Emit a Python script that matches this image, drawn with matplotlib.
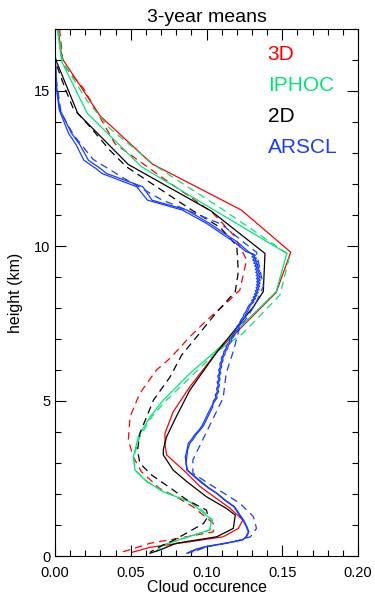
import matplotlib
matplotlib.use("Agg")
import matplotlib.pyplot as plt
from matplotlib.ticker import MultipleLocator

plt.rcParams['font.family'] = ['Liberation Sans', 'DejaVu Sans']

# ---- profiles: (cloud occurrence, height km) ----
red_solid_x = [0.002, 0.0046, 0.0297, 0.064, 0.123, 0.1556, 0.146, 0.107, 0.089, 0.078, 0.0726,
               0.0726, 0.0737, 0.087, 0.0957, 0.1155, 0.124, 0.121, 0.111, 0.089, 0.0627, 0.051]
red_solid_z = [17.0, 16.06, 14.2, 12.65, 11.16, 9.8, 8.5, 6.59, 5.46, 4.65, 3.96,
               3.6, 3.26, 2.67, 2.24, 1.54, 1.16, 0.89, 0.62, 0.46, 0.28, 0.12]

red_dash_x = [0.003, 0.0055, 0.0187, 0.0396, 0.0748, 0.1034, 0.118, 0.1265, 0.122, 0.114, 0.100,
              0.089, 0.076, 0.067, 0.056, 0.0495, 0.0484, 0.0517, 0.057, 0.069, 0.080, 0.091,
              0.1045, 0.1045, 0.087, 0.0627, 0.044]
red_dash_z = [17.0, 15.84, 15.09, 13.3, 12.07, 11.1, 10.35, 9.55, 8.58, 8.2, 7.6,
              7.07, 6.38, 6.0, 5.25, 4.49, 3.74, 3.2, 2.72, 2.18, 1.91, 1.59,
              1.05, 0.78, 0.62, 0.41, 0.12]

green_solid_x = [0.0015, 0.0044, 0.0213, 0.057, 0.153, 0.146, 0.1056, 0.089, 0.0715, 0.0627, 0.055,
                 0.0517, 0.0528, 0.0605, 0.0715, 0.089, 0.0957, 0.1034, 0.102, 0.0847, 0.069, 0.067]
green_solid_z = [17.0, 15.95, 14.28, 12.56, 9.76, 8.53, 6.59, 5.89, 5.03, 4.49, 3.85,
                 3.2, 2.77, 2.40, 2.07, 1.75, 1.48, 1.16, 0.84, 0.57, 0.32, 0.14]

green_dash_x = [0.002, 0.005, 0.021, 0.036, 0.067, 0.110, 0.155, 0.1485, 0.124, 0.107, 0.090,
                0.073, 0.064, 0.056, 0.052, 0.053, 0.061, 0.072, 0.089, 0.097, 0.104, 0.1025,
                0.085, 0.070, 0.068]
green_dash_z = [17.0, 15.95, 14.7, 13.8, 12.56, 11.2, 9.7, 8.42, 7.18, 6.59, 5.8,
                5.0, 4.5, 3.85, 3.2, 2.77, 2.40, 2.07, 1.75, 1.48, 1.16, 0.84,
                0.57, 0.32, 0.14]

black_solid_x = [0.0, 0.0, 0.001, 0.015, 0.0484, 0.103, 0.1386, 0.1375, 0.131, 0.107, 0.089,
                 0.080, 0.0737, 0.0715, 0.0715, 0.078, 0.087, 0.100, 0.113, 0.119, 0.1177,
                 0.1067, 0.080, 0.069, 0.0627]
black_solid_z = [17.0, 16.1, 15.95, 14.28, 12.63, 11.13, 9.76, 8.53, 8.04, 6.59, 5.35,
                 4.49, 3.85, 3.44, 3.26, 2.77, 2.40, 1.91, 1.54, 1.32, 0.89,
                 0.62, 0.41, 0.19, 0.09]

black_dash_x = [0.0, 0.0, 0.001, 0.0066, 0.012, 0.023, 0.036, 0.047, 0.089, 0.109, 0.120,
                0.121, 0.119, 0.107, 0.0935, 0.0836, 0.076, 0.065, 0.0605, 0.056, 0.0545,
                0.056, 0.0638, 0.078, 0.087, 0.100, 0.101, 0.098, 0.080, 0.069, 0.0627]
black_dash_z = [17.0, 16.1, 15.84, 15.09, 14.44, 13.85, 13.1, 12.56, 11.2, 10.6, 10.0,
                9.17, 8.53, 7.88, 7.07, 6.48, 5.78, 5.03, 4.49, 3.96, 3.42,
                2.99, 2.61, 2.13, 1.81, 1.48, 1.27, 1.05, 0.55, 0.30, 0.12]

# ARSCL observations (fine vertical resolution, two periods plus a third dashed)
arscl_z = [17.0, 16.0, 15.14, 14.39, 13.63, 13.26, 12.77, 12.5, 12.34, 11.91, 11.48,
           11.16, 10.73, 10.40, 10.14, 9.82,
           9.75, 9.7, 9.65, 9.6, 9.55, 9.5, 9.45, 9.4, 9.35, 9.3, 9.25, 9.2, 9.15, 9.1,
           9.05, 9.0, 8.95, 8.9, 8.85, 8.8, 8.75, 8.7, 8.65, 8.6, 8.55, 8.5, 8.45, 8.4,
           8.35, 8.3, 8.25, 8.2, 8.1, 8.0, 7.9, 7.8, 7.7, 7.6, 7.5, 7.4, 7.3, 7.2,
           7.1, 7.0, 6.9, 6.8, 6.7, 6.6, 6.5, 6.4, 6.3, 6.2, 6.1, 6.0, 5.9, 5.8,
           5.7, 5.6, 5.5, 5.4, 5.3, 5.2, 5.1, 5.0,
           4.8, 4.6, 4.4, 4.2, 4.06, 3.9, 3.75, 3.64, 3.4, 3.2, 3.0,
           2.77, 2.6, 2.40, 2.2, 2.02, 1.8, 1.59, 1.37, 1.16, 0.97, 0.78,
           0.62, 0.52, 0.41, 0.30, 0.22, 0.09]
arscl_a_x = [0.0, 0.0003, 0.001, 0.0033, 0.011, 0.0165, 0.022, 0.030, 0.034, 0.058, 0.064,
             0.087, 0.102, 0.112, 0.120, 0.1276,
             0.1295, 0.1310, 0.1300, 0.1318, 0.1305, 0.1322, 0.1312, 0.1330, 0.1318, 0.1335,
             0.1322, 0.1338, 0.1325, 0.1340, 0.1328, 0.1342, 0.1330, 0.1343, 0.1331, 0.1342,
             0.1330, 0.1340, 0.1327, 0.1336, 0.1322, 0.1331, 0.1316, 0.1324, 0.1308, 0.1315,
             0.1298, 0.1304, 0.1282, 0.1270, 0.1262, 0.1248, 0.1240, 0.1225, 0.1218, 0.1200,
             0.1195, 0.1178, 0.1172, 0.1155, 0.1150, 0.1133, 0.1130, 0.1115, 0.1112, 0.1098,
             0.1100, 0.1088, 0.1092, 0.1080, 0.1086, 0.1074, 0.1082, 0.1070, 0.1078, 0.1066,
             0.1072, 0.1058, 0.1062, 0.1045,
             0.104, 0.102, 0.100, 0.098, 0.0957, 0.093, 0.091, 0.089, 0.0875, 0.087, 0.0865,
             0.087, 0.091, 0.0957, 0.101, 0.1067, 0.112, 0.118, 0.121, 0.124, 0.126, 0.1276,
             0.126, 0.124, 0.113, 0.100, 0.094, 0.088]
arscl_b_x = [0.0, 0.0002, 0.0008, 0.0028, 0.009, 0.014, 0.019, 0.027, 0.031, 0.054, 0.061,
             0.084, 0.100, 0.110, 0.118, 0.126,
             0.1305, 0.1322, 0.1312, 0.1330, 0.1318, 0.1336, 0.1325, 0.1343, 0.1331, 0.1348,
             0.1336, 0.1352, 0.1340, 0.1355, 0.1342, 0.1356, 0.1344, 0.1356, 0.1343, 0.1354,
             0.1341, 0.1351, 0.1338, 0.1347, 0.1333, 0.1341, 0.1326, 0.1333, 0.1317, 0.1324,
             0.1307, 0.1313, 0.1292, 0.1281, 0.1273, 0.1260, 0.1252, 0.1237, 0.1229, 0.1212,
             0.1206, 0.1190, 0.1184, 0.1166, 0.1161, 0.1144, 0.1140, 0.1125, 0.1121, 0.1108,
             0.1109, 0.1097, 0.1100, 0.1089, 0.1094, 0.1083, 0.1090, 0.1079, 0.1086, 0.1075,
             0.1080, 0.1067, 0.1070, 0.1055,
             0.103, 0.101, 0.099, 0.097, 0.095, 0.092, 0.090, 0.088, 0.087, 0.086, 0.0865,
             0.0875, 0.0915, 0.0965, 0.1015, 0.107, 0.1125, 0.1185, 0.1215, 0.1245, 0.1265,
             0.128, 0.1265, 0.1235, 0.112, 0.099, 0.093, 0.087]

arscl_dash_x = [0.0, 0.0005, 0.004, 0.012, 0.025, 0.045, 0.070, 0.090, 0.110, 0.125, 0.133,
                0.1375, 0.133, 0.127, 0.122, 0.118, 0.113, 0.111, 0.100, 0.091, 0.091,
                0.1045, 0.122, 0.131, 0.133, 0.129, 0.118, 0.100, 0.090]
arscl_dash_z = [17.0, 15.5, 14.3, 13.6, 12.8, 12.2, 11.5, 11.1, 10.7, 10.1, 9.8,
                8.7, 8.2, 7.7, 7.4, 6.65, 5.9, 5.1, 4.0, 3.1, 2.67,
                2.24, 1.70, 1.27, 0.89, 0.62, 0.46, 0.30, 0.10]

RED = '#ff0000'
GREEN = '#00e676'
BLACK = '#000000'
BLUE = '#1a3cff'

legend_labels = ['3D', 'IPHOC', '2D', 'ARSCL']
legend_colors = [RED, GREEN, BLACK, BLUE]

fig = plt.figure(figsize=(3.75, 5.96), dpi=100)
ax = fig.add_axes([55 / 375, 40 / 596, 303 / 375, 527 / 596])

lw = 0.9
dash = (0, (6, 4))
ax.plot(red_solid_x, red_solid_z, color=RED, lw=lw)
ax.plot(red_dash_x, red_dash_z, color=RED, lw=lw, linestyle=dash)
ax.plot(green_solid_x, green_solid_z, color=GREEN, lw=lw)
ax.plot(green_dash_x, green_dash_z, color=GREEN, lw=lw, linestyle=dash)
ax.plot(black_solid_x, black_solid_z, color=BLACK, lw=lw)
ax.plot(black_dash_x, black_dash_z, color=BLACK, lw=lw, linestyle=dash)
ax.plot(arscl_a_x, arscl_z, color=BLUE, lw=lw)
ax.plot(arscl_b_x, arscl_z, color=BLUE, lw=lw)
ax.plot(arscl_dash_x, arscl_dash_z, color=BLUE, lw=lw, linestyle=dash)

ax.set_xlim(0, 0.20)
ax.set_ylim(0, 17)
ax.xaxis.set_major_locator(MultipleLocator(0.05))
ax.xaxis.set_minor_locator(MultipleLocator(0.01))
ax.yaxis.set_major_locator(MultipleLocator(5))
ax.yaxis.set_minor_locator(MultipleLocator(1))
ax.set_xticks([0.0, 0.05, 0.10, 0.15, 0.20])
ax.set_xticklabels(['0.00', '0.05', '0.10', '0.15', '0.20'])
ax.tick_params(which='both', direction='in', top=True, right=True, labelsize=10.5, width=0.8)
ax.tick_params(axis='x', which='major', pad=7)
ax.tick_params(which='major', length=8)
ax.tick_params(which='minor', length=4.5)
for s in ax.spines.values():
    s.set_linewidth(0.8)

ax.set_title('3-year means', fontsize=14, pad=5)
ax.set_xlabel('Cloud occurence', fontsize=11.5, labelpad=0)
ax.set_ylabel('height (km)', fontsize=11.5, labelpad=8)

for i, (lab, col) in enumerate(zip(legend_labels, legend_colors)):
    ax.text(0.702, 0.952 - i * 0.0588, lab, color=col, fontsize=15,
            transform=ax.transAxes, ha='left', va='center')

fig.savefig('out.png', dpi=100)
